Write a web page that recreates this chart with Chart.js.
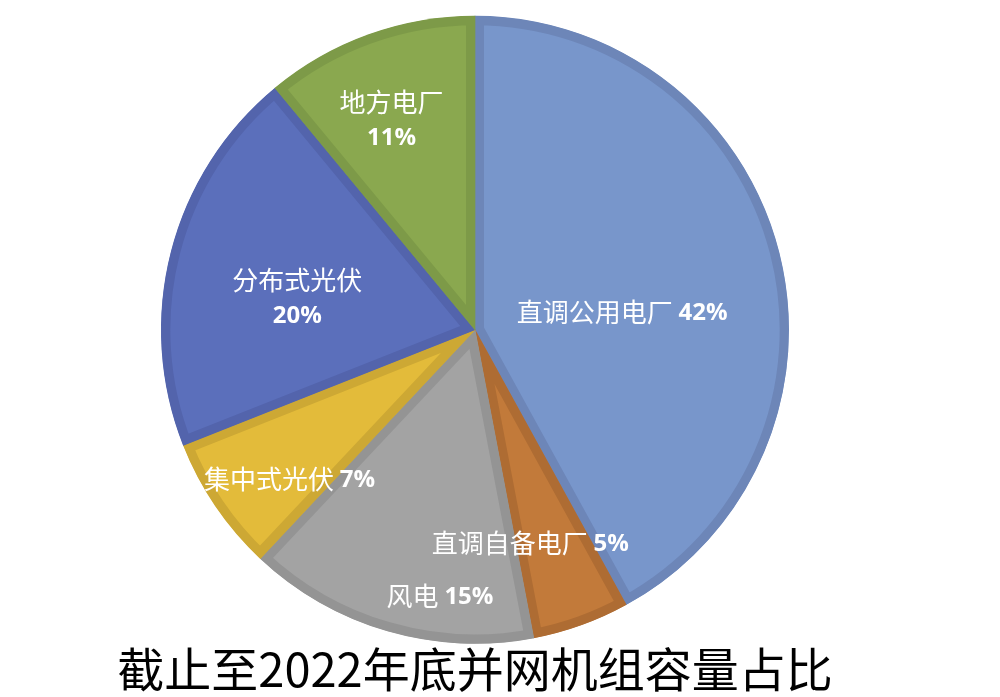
<!DOCTYPE html>
<html>
<head>
<meta charset="utf-8">
<script src="https://cdn.jsdelivr.net/npm/chart.js@4/dist/chart.umd.min.js"></script>
<style>
  html, body { margin: 0; padding: 0; background: #fff; }
  #wrap { width: 1000px; height: 697px; }
</style>
</head>
<body>
<div id="wrap"><canvas id="pieChart" width="1000" height="697"></canvas></div>
<script>
const LABELS = ["直调公用电厂", "直调自备电厂", "风电", "集中式光伏", "分布式光伏", "地方电厂"];
const SHARES = [42, 5, 15, 7, 20, 11];
const TITLE = "截止至2022年底并网机组容量占比";

const COLORS = ["#7896CB", "#C27A3A", "#A3A3A3", "#E3BB3A", "#5B6FBB", "#8AA84F"];
const BORDERS = ["#6D86B8", "#AE6C33", "#949494", "#CDA834", "#5364AC", "#7D9A48"];

// label placement per slice: angle shift (deg) from mid angle, radius fraction, two lines?
const PLACE = [
    { shift: 7.4, frac: 0.472, split: false },
    { shift: 5.3, frac: 0.703, split: false },
    { shift: -8.7, frac: 0.854, split: false },
    { shift: -4.7, frac: 0.759, split: false },
    { shift: -4.2, frac: 0.575, split: true },
    { shift: -1.9, frac: 0.719, split: true }
];

const NAME_FONT = "normal 26px 'Noto Sans CJK SC', 'Noto Sans', sans-serif";
const PCT_FONT = "bold 24px 'Open Sans', 'Noto Sans', sans-serif";

const sliceLabels = {
    id: "sliceLabels",
    afterDatasetsDraw(chart) {
        const ctx = chart.ctx;
        const arcs = chart.getDatasetMeta(0).data;
        ctx.save();
        ctx.fillStyle = "#ffffff";
        ctx.textBaseline = "middle";
        arcs.forEach((arc, i) => {
            const p = PLACE[i];
            const mid = (arc.startAngle + arc.endAngle) / 2 + p.shift * Math.PI / 180;
            const r = arc.outerRadius * p.frac;
            const cx = arc.x + Math.cos(mid) * r;
            const cy = arc.y + Math.sin(mid) * r;
            const name = LABELS[i];
            const pct = SHARES[i] + "%";
            if (p.split) {
                ctx.textAlign = "center";
                ctx.font = NAME_FONT;
                ctx.fillText(name, cx, cy - 18);
                ctx.font = PCT_FONT;
                ctx.fillText(pct, cx, cy + 18);
            } else {
                ctx.font = NAME_FONT;
                const w1 = ctx.measureText(name + " ").width;
                ctx.font = PCT_FONT;
                const w2 = ctx.measureText(pct).width;
                const x0 = cx - (w1 + w2) / 2;
                ctx.textAlign = "left";
                ctx.font = NAME_FONT;
                ctx.fillText(name, x0, cy);
                ctx.font = PCT_FONT;
                ctx.fillText(pct, x0 + w1, cy + 1);
            }
        });
        ctx.restore();
    }
};

const context = document.getElementById("pieChart").getContext("2d");
const myChart = new Chart(context, {
    type: "pie",
    data: {
        labels: LABELS,
        datasets: [
            {
                data: SHARES,
                backgroundColor: COLORS,
                borderColor: BORDERS,
                borderWidth: 9,
                borderAlign: "inner"
            }
        ]
    },
    options: {
        responsive: false,
        animation: false,
        radius: 314,
        layout: { padding: { top: 19, right: 50, left: 0, bottom: 0 } },
        plugins: {
            legend: { display: false },
            tooltip: { enabled: false },
            title: {
                display: true,
                text: TITLE,
                position: "bottom",
                color: "#000000",
                font: { family: "'Noto Sans CJK SC', sans-serif", size: 47, weight: "normal", lineHeight: 1.2 },
                padding: { top: 0, bottom: 0 }
            }
        }
    },
    plugins: [sliceLabels]
});
</script>
</body>
</html>
